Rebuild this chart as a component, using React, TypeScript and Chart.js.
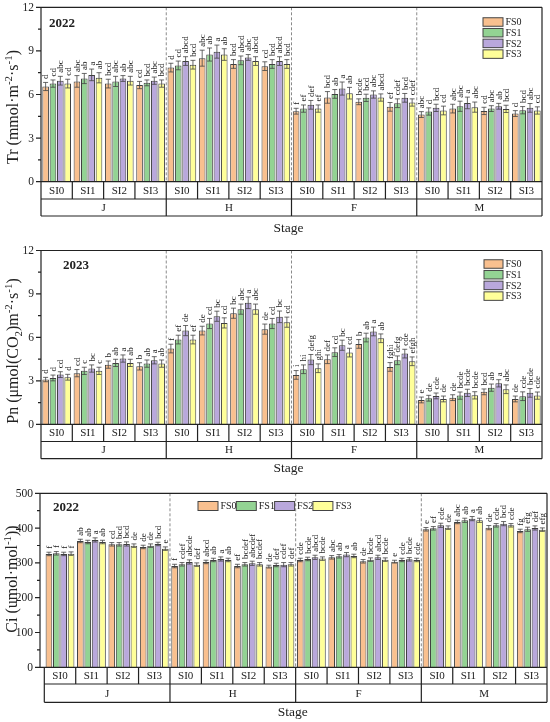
import React, { useEffect, useRef } from 'react';
import { Chart, registerables } from 'chart.js';
Chart.register(...registerables);

const FONT = "'Liberation Serif', 'Times New Roman', Times, serif";

const stages = ['J', 'H', 'F', 'M'];
const siLabels = ['SI0', 'SI1', 'SI2', 'SI3'];
const seriesNames = ['FS0', 'FS1', 'FS2', 'FS3'];
const seriesColors = ['#F9C08F', '#93D393', '#B9A8DC', '#FFFF99'];
const categories = stages.flatMap((s) => siLabels.map((si) => `${s}-${si}`));

// ---- Tr 2022 ----
const trFS0 = [6.55, 6.9, 6.75, 6.65, 7.85, 8.5, 8.1, 7.95, 4.85, 5.8, 5.5, 5.15, 4.62, 5.03, 4.87, 4.69];
const trFS1 = [6.75, 7.1, 6.9, 6.8, 8.0, 8.75, 8.35, 8.1, 5.03, 6.04, 5.77, 5.4, 4.83, 5.19, 5.03, 4.92];
const trFS2 = [6.95, 7.35, 7.1, 6.95, 8.3, 8.95, 8.55, 8.3, 5.29, 6.41, 6.0, 5.77, 5.08, 5.42, 5.19, 5.08];
const trFS3 = [6.75, 7.15, 6.95, 6.75, 8.05, 8.75, 8.3, 8.1, 5.03, 6.09, 5.79, 5.45, 4.9, 5.13, 5.01, 4.9];
const trErr0 = [0.28, 0.4, 0.3, 0.25, 0.3, 0.55, 0.3, 0.3, 0.2, 0.4, 0.2, 0.3, 0.2, 0.3, 0.25, 0.2];
const trErr1 = [0.25, 0.35, 0.35, 0.2, 0.3, 0.45, 0.3, 0.3, 0.25, 0.3, 0.25, 0.3, 0.25, 0.35, 0.2, 0.25];
const trErr2 = [0.3, 0.4, 0.2, 0.25, 0.3, 0.45, 0.2, 0.3, 0.3, 0.45, 0.25, 0.3, 0.25, 0.4, 0.2, 0.3];
const trErr3 = [0.3, 0.35, 0.3, 0.25, 0.3, 0.4, 0.3, 0.3, 0.25, 0.4, 0.25, 0.25, 0.3, 0.35, 0.25, 0.25];
const trLet0 = ['d', 'abc', 'bcd', 'cd', 'd', 'abc', 'bcd', 'cd', 'f', 'bcd', 'bcde', 'ef', 'abc', 'abc', 'cd', 'd'];
const trLet1 = ['cd', 'ab', 'abc', 'bcd', 'cd', 'ab', 'abcd', 'bcd', 'ef', 'ab', 'bcd', 'cdef', 'd', 'abc', 'abc', 'bcd'];
const trLet2 = ['abc', 'a', 'ab', 'abc', 'abcd', 'a', 'abc', 'abcd', 'def', 'a', 'abc', 'bcd', 'bcd', 'a', 'ab', 'abc'];
const trLet3 = ['cd', 'ab', 'abc', 'bcd', 'bcd', 'ab', 'abcd', 'bcd', 'ef', 'ab', 'abcd', 'cdef', 'cd', 'abc', 'bcd', 'cd'];

// ---- Pn 2023 ----
const pnFS0 = [3.09, 3.53, 4.12, 4.0, 5.23, 6.47, 7.67, 6.57, 3.41, 4.49, 5.55, 3.96, 1.68, 1.84, 2.24, 1.75];
const pnFS1 = [3.2, 3.69, 4.24, 4.19, 5.85, 6.96, 7.95, 6.96, 3.8, 4.98, 5.99, 4.42, 1.8, 1.98, 2.53, 1.94];
const pnFS2 = [3.43, 3.85, 4.54, 4.42, 6.47, 7.46, 8.39, 7.42, 4.47, 5.46, 6.41, 4.88, 1.96, 2.17, 2.83, 2.17];
const pnFS3 = [3.25, 3.69, 4.24, 4.19, 5.85, 7.0, 7.95, 7.05, 3.87, 4.95, 5.94, 4.35, 1.75, 2.0, 2.42, 1.98];
const pnErr0 = [0.15, 0.25, 0.25, 0.25, 0.3, 0.3, 0.35, 0.35, 0.3, 0.3, 0.3, 0.3, 0.2, 0.2, 0.2, 0.2];
const pnErr1 = [0.2, 0.25, 0.25, 0.25, 0.3, 0.35, 0.35, 0.35, 0.3, 0.3, 0.3, 0.3, 0.2, 0.25, 0.25, 0.3];
const pnErr2 = [0.2, 0.25, 0.25, 0.25, 0.35, 0.35, 0.4, 0.4, 0.35, 0.35, 0.3, 0.3, 0.2, 0.25, 0.25, 0.3];
const pnErr3 = [0.2, 0.25, 0.25, 0.25, 0.3, 0.35, 0.35, 0.35, 0.3, 0.3, 0.3, 0.3, 0.2, 0.25, 0.3, 0.25];
const pnLet0 = ['d', 'cd', 'b', 'b', 'f', 'de', 'bc', 'de', 'i', 'def', 'b', 'fghi', 'e', 'de', 'bcd', 'de'];
const pnLet1 = ['d', 'c', 'ab', 'ab', 'ef', 'cd', 'abc', 'cd', 'hi', 'cd', 'ab', 'defg', 'de', 'bcde', 'ab', 'cde'];
const pnLet2 = ['cd', 'bc', 'a', 'a', 'de', 'bc', 'a', 'bc', 'defg', 'bc', 'a', 'cde', 'cde', 'bcde', 'a', 'bcde'];
const pnLet3 = ['d', 'c', 'ab', 'ab', 'ef', 'cd', 'abc', 'cd', 'ghi', 'cd', 'ab', 'efgh', 'de', 'bcde', 'abc', 'cde'];

// ---- Ci 2022 ----
const ciFS0 = [325.7, 363, 353.4, 345.8, 291, 302.7, 291, 289.3, 308.4, 316, 304.6, 303.6, 396.6, 417.6, 401.3, 391.8];
const ciFS1 = [327.6, 360, 353.4, 349.6, 296, 308.4, 296, 294, 311.3, 319, 309.4, 308.4, 399.4, 422.4, 408, 396.6];
const ciFS2 = [325.7, 366, 354.4, 354.4, 302.7, 311.3, 298.9, 295, 316, 323.8, 316, 310.3, 408, 427.2, 412.8, 400.4];
const ciFS3 = [326.6, 360, 349.6, 341, 295, 308.4, 296, 296, 312.3, 320, 309.4, 308.4, 401.3, 422.4, 408, 395.6];
const ciErr0 = [5, 5, 5, 5, 5, 5, 5, 4, 5, 5, 5, 4, 5, 5, 6, 5];
const ciErr1 = [5, 5, 5, 5, 5, 5, 5, 5, 5, 5, 5, 5, 5, 6, 5, 6];
const ciErr2 = [5, 6, 6, 5, 6, 6, 6, 6, 6, 6, 6, 5, 6, 6, 6, 6];
const ciErr3 = [5, 5, 5, 5, 5, 5, 5, 5, 5, 5, 5, 5, 5, 6, 5, 5];
const ciLet0 = ['f', 'ab', 'cd', 'de', 'f', 'abcd', 'ef', 'de', 'cde', 'abc', 'de', 'e', 'e', 'abc', 'de', 'fg'];
const ciLet1 = ['f', 'ab', 'bcd', 'de', 'cdef', 'ab', 'bcdef', 'def', 'bcde', 'ab', 'bcde', 'cde', 'ef', 'ab', 'cde', 'efg'];
const ciLet2 = ['f', 'a', 'bcd', 'bcd', 'abcde', 'a', 'abcdef', 'cdef', 'abcd', 'a', 'abcd', 'bcde', 'cde', 'a', 'bcd', 'def'];
const ciLet3 = ['f', 'ab', 'de', 'e', 'def', 'ab', 'bcdef', 'def', 'bcde', 'ab', 'bcde', 'cde', 'de', 'ab', 'cde', 'efg'];

const trTicks = [0, 3, 6, 9, 12];
const pnTicks = [0, 3, 6, 9, 12];
const ciTicks = [0, 100, 200, 300, 400, 500];

type Seg = { t: string; s?: number };

interface Spec {
  top: number;
  height: number;
  values: number[][];
  errors: number[][];
  letters: string[][];
  ticks: number[];
  year: string;
  title: Seg[];
  layout: {
    left: number; right: number; top: number; bottom: number; axisX: number;
    r1: number; r2: number; stageY: number; titleX: number; titleY: number;
    yearX: number; yearY: number;
    legend: { horizontal: boolean; x: number; y: number; step: number; bw: number; bh: number };
  };
}

const specs: Spec[] = [
  {
    top: 0, height: 240,
    values: [trFS0, trFS1, trFS2, trFS3], errors: [trErr0, trErr1, trErr2, trErr3],
    letters: [trLet0, trLet1, trLet2, trLet3], ticks: trTicks, year: '2022',
    title: [{ t: 'Tr (mmol·m' }, { t: '-2', s: 1 }, { t: '·s' }, { t: '-1', s: 1 }, { t: ')' }],
    layout: {
      left: 41, right: 542, top: 7.3, bottom: 181.7, axisX: 41, r1: 199, r2: 216, stageY: 228,
      titleX: 12.5, titleY: 107, yearX: 49, yearY: 23.5,
      legend: { horizontal: false, x: 483, y: 22, step: 10.7, bw: 20, bh: 8.5 },
    },
  },
  {
    top: 240, height: 240,
    values: [pnFS0, pnFS1, pnFS2, pnFS3], errors: [pnErr0, pnErr1, pnErr2, pnErr3],
    letters: [pnLet0, pnLet1, pnLet2, pnLet3], ticks: pnTicks, year: '2023',
    title: [{ t: 'Pn (μmol(CO' }, { t: '2', s: -1 }, { t: ')m' }, { t: '-2', s: 1 }, { t: '·s' }, { t: '-1', s: 1 }, { t: ')' }],
    layout: {
      left: 41, right: 542, top: 10.5, bottom: 184.3, axisX: 41, r1: 201.5, r2: 218.7, stageY: 228,
      titleX: 12.5, titleY: 111, yearX: 63, yearY: 26,
      legend: { horizontal: false, x: 484, y: 24, step: 10.7, bw: 19, bh: 8.5 },
    },
  },
  {
    top: 480, height: 242,
    values: [ciFS0, ciFS1, ciFS2, ciFS3], errors: [ciErr0, ciErr1, ciErr2, ciErr3],
    letters: [ciLet0, ciLet1, ciLet2, ciLet3], ticks: ciTicks, year: '2022',
    title: [{ t: 'Ci (umol·mol' }, { t: '-1', s: 1 }, { t: '))' }],
    layout: {
      left: 44.3, right: 547, top: 13.3, bottom: 187.3, axisX: 40, r1: 204, r2: 222.3, stageY: 232.3,
      titleX: 11.5, titleY: 99, yearX: 53, yearY: 27.5,
      legend: { horizontal: true, x: 198, y: 26, step: 38.3, bw: 20, bh: 9 },
    },
  },
];

function drawRich(ctx: CanvasRenderingContext2D, segs: Seg[], size: number) {
  let total = 0;
  const parts = segs.map((seg) => {
    const fs = seg.s ? size * 0.68 : size;
    ctx.font = `${fs}px ${FONT}`;
    const w = ctx.measureText(seg.t).width;
    total += w;
    return { ...seg, fs, w };
  });
  let x = -total / 2;
  ctx.textAlign = 'left';
  ctx.textBaseline = 'alphabetic';
  for (const p of parts) {
    ctx.font = `${p.fs}px ${FONT}`;
    const dy = p.s === 1 ? -size * 0.4 : p.s === -1 ? size * 0.22 : 0;
    ctx.fillText(p.t, x, dy + size * 0.35);
    x += p.w;
  }
}

function makeDecor(spec: Spec) {
  const L = spec.layout;
  return {
    id: 'decor',
    beforeDatasetsDraw(chart: any) {
      const { ctx, chartArea: ca } = chart;
      const xs = chart.scales.x;
      ctx.save();
      ctx.strokeStyle = '#8a8a8a';
      ctx.lineWidth = 1;
      ctx.setLineDash([3, 2]);
      for (let k = 4; k < 16; k += 4) {
        const bx = (xs.getPixelForValue(k - 1) + xs.getPixelForValue(k)) / 2;
        ctx.beginPath();
        ctx.moveTo(bx, ca.top);
        ctx.lineTo(bx, ca.bottom);
        ctx.stroke();
      }
      ctx.restore();
    },
    afterDatasetsDraw(chart: any) {
      const { ctx, chartArea: ca } = chart;
      const xs = chart.scales.x;
      const ys = chart.scales.y;
      ctx.save();
      // error bars and letters
      spec.values.forEach((vals, i) => {
        const meta = chart.getDatasetMeta(i);
        meta.data.forEach((el: any, j: number) => {
          const v = vals[j];
          const e = spec.errors[i][j];
          const x = el.x;
          const yt = ys.getPixelForValue(v + e);
          const yb = ys.getPixelForValue(v - e);
          ctx.strokeStyle = '#444';
          ctx.lineWidth = 0.8;
          ctx.beginPath();
          ctx.moveTo(x, yt); ctx.lineTo(x, yb);
          ctx.moveTo(x - 2.5, yt); ctx.lineTo(x + 2.5, yt);
          ctx.moveTo(x - 2.5, yb); ctx.lineTo(x + 2.5, yb);
          ctx.stroke();
          ctx.save();
          ctx.translate(x, yt - 3.5);
          ctx.rotate(-Math.PI / 2);
          ctx.fillStyle = '#222';
          ctx.font = `9px ${FONT}`;
          ctx.textAlign = 'left';
          ctx.textBaseline = 'middle';
          ctx.fillText(spec.letters[i][j], 0, 0.5);
          ctx.restore();
        });
      });

      ctx.strokeStyle = '#222';
      ctx.lineWidth = 1.2;
      ctx.beginPath();
      // frame
      ctx.moveTo(L.axisX, ca.top); ctx.lineTo(ca.right, ca.top);
      ctx.moveTo(ca.right, ca.top); ctx.lineTo(ca.right, L.r2);
      ctx.moveTo(L.axisX, ca.top); ctx.lineTo(L.axisX, ca.bottom);
      ctx.moveTo(L.axisX, ca.bottom); ctx.lineTo(ca.right, ca.bottom);
      // rows
      ctx.moveTo(ca.left, L.r1); ctx.lineTo(ca.right, L.r1);
      ctx.moveTo(ca.left, L.r2); ctx.lineTo(ca.right, L.r2);
      ctx.moveTo(ca.left, ca.bottom); ctx.lineTo(ca.left, L.r2);
      for (let k = 1; k < 16; k++) {
        const bx = (xs.getPixelForValue(k - 1) + xs.getPixelForValue(k)) / 2;
        ctx.moveTo(bx, ca.bottom);
        ctx.lineTo(bx, k % 4 === 0 ? L.r2 : L.r1);
      }
      // y ticks
      const step = spec.ticks[1] - spec.ticks[0];
      spec.ticks.forEach((t, idx) => {
        const py = ys.getPixelForValue(t);
        ctx.moveTo(L.axisX - 5, py); ctx.lineTo(L.axisX, py);
        if (idx < spec.ticks.length - 1) {
          const pm = ys.getPixelForValue(t + step / 2);
          ctx.moveTo(L.axisX - 3, pm); ctx.lineTo(L.axisX, pm);
        }
      });
      ctx.stroke();

      ctx.fillStyle = '#222';
      ctx.font = `11.5px ${FONT}`;
      ctx.textAlign = 'right';
      ctx.textBaseline = 'middle';
      spec.ticks.forEach((t) => {
        ctx.fillText(String(t), L.axisX - 7, ys.getPixelForValue(t) + 0.5);
      });

      // SI labels and stage labels
      ctx.textAlign = 'center';
      ctx.font = `11px ${FONT}`;
      categories.forEach((c, k) => {
        ctx.fillText(siLabels[k % 4], xs.getPixelForValue(k), (ca.bottom + L.r1) / 2 + 0.5);
      });
      stages.forEach((s, si) => {
        const cx = (xs.getPixelForValue(si * 4 + 1) + xs.getPixelForValue(si * 4 + 2)) / 2;
        ctx.fillText(s, cx, (L.r1 + L.r2) / 2 + 0.5);
      });
      ctx.font = `13.5px ${FONT}`;
      ctx.fillText('Stage', (ca.left + ca.right) / 2 - 3, L.stageY);

      // year label
      ctx.font = `bold 13px ${FONT}`;
      ctx.textAlign = 'left';
      ctx.fillText(spec.year, L.yearX, L.yearY);

      // y title
      ctx.save();
      ctx.translate(L.titleX, L.titleY);
      ctx.rotate(-Math.PI / 2);
      ctx.fillStyle = '#222';
      drawRich(ctx, spec.title, 16);
      ctx.restore();

      // legend
      const lg = L.legend;
      seriesNames.forEach((n, i) => {
        const bx = lg.horizontal ? lg.x + i * lg.step : lg.x;
        const cy = lg.horizontal ? lg.y : lg.y + i * lg.step;
        ctx.fillStyle = seriesColors[i];
        ctx.fillRect(bx, cy - lg.bh / 2, lg.bw, lg.bh);
        ctx.strokeStyle = '#444';
        ctx.lineWidth = 1;
        ctx.strokeRect(bx, cy - lg.bh / 2, lg.bw, lg.bh);
        ctx.fillStyle = '#222';
        ctx.font = `10px ${FONT}`;
        ctx.textAlign = 'left';
        ctx.textBaseline = 'middle';
        ctx.fillText(n, bx + lg.bw + 2.5, cy + 0.5);
      });
      ctx.restore();
    },
  };
}

function Panel({ spec }: { spec: Spec }) {
  const ref = useRef<HTMLCanvasElement>(null);
  useEffect(() => {
    if (!ref.current) return;
    const L = spec.layout;
    const chart = new Chart(ref.current, {
      type: 'bar',
      data: {
        labels: categories,
        datasets: spec.values.map((vals, i) => ({
          label: seriesNames[i],
          data: vals,
          backgroundColor: seriesColors[i],
          borderColor: '#3f3f3f',
          borderWidth: 1,
          categoryPercentage: 0.94,
          barPercentage: 0.9,
        })),
      },
      options: {
        responsive: false,
        animation: false,
        devicePixelRatio: 1,
        layout: {
          padding: { left: L.left, right: 550 - L.right, top: L.top, bottom: spec.height - L.bottom },
        },
        scales: {
          x: { type: 'category', display: false },
          y: { type: 'linear', display: false, min: spec.ticks[0], max: spec.ticks[spec.ticks.length - 1] },
        },
        plugins: { legend: { display: false }, tooltip: { enabled: false } },
      },
      plugins: [makeDecor(spec)],
    });
    return () => chart.destroy();
  }, [spec]);
  return (
    <canvas
      ref={ref}
      width={550}
      height={spec.height}
      style={{ position: 'absolute', left: 0, top: spec.top, width: 550, height: spec.height }}
    />
  );
}

export default function App() {
  useEffect(() => {
    document.body.style.margin = '0';
    document.body.style.background = '#fff';
  }, []);
  return (
    <div style={{ position: 'relative', width: 550, height: 722, background: '#fff' }}>
      {specs.map((s, i) => (
        <Panel key={i} spec={s} />
      ))}
    </div>
  );
}
